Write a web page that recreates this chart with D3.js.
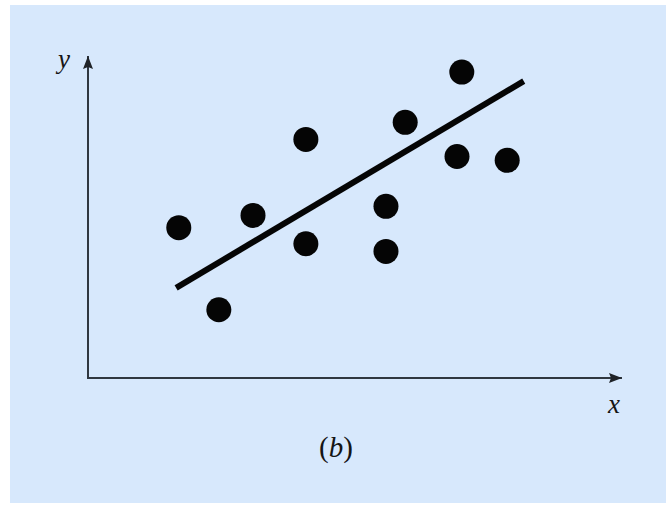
<!DOCTYPE html>
<html>
<head>
<meta charset="utf-8">
<script src="https://cdn.jsdelivr.net/npm/d3@7"></script>
<style>
  html, body { margin: 0; padding: 0; background: #ffffff; }
  svg { display: block; }
</style>
</head>
<body>
<svg id="chart" width="666" height="507"></svg>
<script>
// Scatter data (arbitrary units, 0–100 on each axis)
const xValues = [17.0, 24.5, 30.9, 40.8, 40.8, 55.8, 55.8, 59.4, 70.0, 69.1, 78.5];
const yValues = [46.7, 21.2, 50.5, 74.1, 41.7, 53.3, 39.3, 79.4, 95.0, 68.8, 67.6];

// Fitted line endpoints
const lineX = [16.5, 81.6];
const lineY = [28.0, 92.2];

// Axis labels and caption
const xLabel = "x";
const yLabel = "y";
const caption = "b";

const svg = d3.select("#chart");

// Panel background
svg.append("rect")
  .attr("x", 10).attr("y", 5)
  .attr("width", 656).attr("height", 498)
  .attr("fill", "#d7e8fc");

const x = d3.scaleLinear().domain([0, 100]).range([88, 622]);
const y = d3.scaleLinear().domain([0, 100]).range([378, 56]);

// Arrowhead
svg.append("defs").append("marker")
  .attr("id", "arrow")
  .attr("viewBox", "0 0 13 10")
  .attr("refX", 13).attr("refY", 5)
  .attr("markerWidth", 13).attr("markerHeight", 10)
  .attr("markerUnits", "userSpaceOnUse")
  .attr("orient", "auto")
  .append("path")
  .attr("d", "M0,0 L13,5 L0,10 L2,5 Z")
  .attr("fill", "#1f2328");

const axisColor = "#2f3740";

// Axes drawn as plain arrows
svg.append("line")
  .attr("x1", x(0) - 1).attr("y1", y(0))
  .attr("x2", x(100)).attr("y2", y(0))
  .attr("stroke", axisColor).attr("stroke-width", 2)
  .attr("marker-end", "url(#arrow)");

svg.append("line")
  .attr("x1", x(0)).attr("y1", y(0))
  .attr("x2", x(0)).attr("y2", y(100))
  .attr("stroke", axisColor).attr("stroke-width", 2)
  .attr("marker-end", "url(#arrow)");

// Regression line
svg.append("line")
  .attr("x1", x(lineX[0])).attr("y1", y(lineY[0]))
  .attr("x2", x(lineX[1])).attr("y2", y(lineY[1]))
  .attr("stroke", "#050505").attr("stroke-width", 6)
  .attr("stroke-linecap", "butt");

// Points
const pts = xValues.map((v, i) => ({ x: v, y: yValues[i] }));
svg.selectAll("circle.pt")
  .data(pts)
  .join("circle")
  .attr("class", "pt")
  .attr("cx", d => x(d.x))
  .attr("cy", d => y(d.y))
  .attr("r", 12.5)
  .attr("fill", "#050505");

// Labels
const font = "'Liberation Serif', 'DejaVu Serif', serif";
svg.append("text")
  .attr("x", 64).attr("y", 68)
  .attr("text-anchor", "middle")
  .attr("font-family", font).attr("font-style", "italic")
  .attr("font-size", 27).attr("fill", "#151515")
  .text(yLabel);

svg.append("text")
  .attr("x", 614).attr("y", 413)
  .attr("text-anchor", "middle")
  .attr("font-family", font).attr("font-style", "italic")
  .attr("font-size", 27).attr("fill", "#151515")
  .text(xLabel);

const cap = svg.append("text")
  .attr("x", 336).attr("y", 457)
  .attr("text-anchor", "middle")
  .attr("font-family", font)
  .attr("font-size", 29).attr("fill", "#151515");
cap.append("tspan").text("(");
cap.append("tspan").attr("font-style", "italic").text(caption);
cap.append("tspan").text(")");
</script>
</body>
</html>
